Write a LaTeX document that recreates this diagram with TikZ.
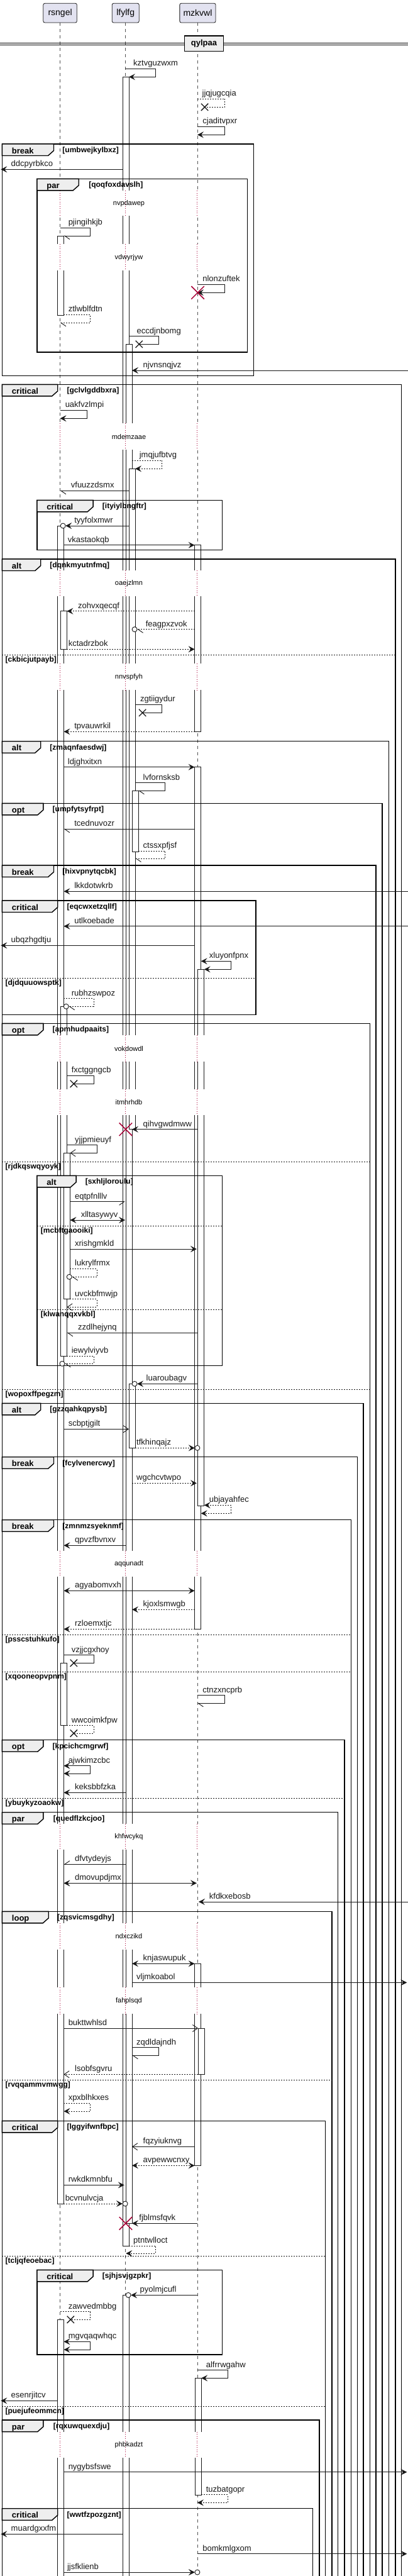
\documentclass[tikz,border=0pt]{standalone}
\usepackage{fontspec}
\setmainfont{Liberation Sans}
\usetikzlibrary{arrows.meta,shapes.misc}
\definecolor{ln}{HTML}{181818}
\definecolor{pfill}{HTML}{E2E2F0}
\definecolor{tabfill}{HTML}{EEEEEE}
\definecolor{dlc}{HTML}{A80036}
\tikzset{
 msg/.style={draw=ln, line width=0.9pt},
 dsh/.style={dash pattern=on 2pt off 2pt},
 fa/.style={-{Stealth[length=10pt,width=10pt,inset=4pt]}},
 fb/.style={{Stealth[length=10pt,width=10pt,inset=4pt]}-{Stealth[length=10pt,width=10pt,inset=4pt]}},
 ob/.style={-{Straight Barb[length=8pt,width=11pt]}},
 hb/.style={-{Straight Barb[harpoon,length=8pt,width=11pt]}},
 hbs/.style={-{Straight Barb[harpoon,swap,length=8pt,width=11pt]}},
 lbl/.style={anchor=base west, inner sep=0pt, text=ln, font=\fontsize{13}{13}\selectfont},
 frm/.style={draw=black, line width=1.4pt},
 tabs/.style={draw=black, fill=tabfill, line width=1.4pt},
 tabl/.style={anchor=base west, inner sep=0pt, font=\fontsize{13}{13}\selectfont\bfseries},
 grd/.style={anchor=base west, inner sep=0pt, font=\fontsize{12}{12}\selectfont\bfseries},
 els/.style={draw=ln, line width=0.9pt, dash pattern=on 2pt off 2pt},
 dly/.style={draw=dlc, line width=0.9pt, dash pattern=on 1pt off 2.5pt},
 dlbl/.style={inner sep=0pt, font=\fontsize{11}{11}\selectfont},
 act/.style={draw=ln, fill=white, line width=0.8pt},
 life/.style={draw=ln!75, line width=0.7pt, dash pattern=on 5pt off 5pt},
 part/.style={draw=ln, fill=pfill, rounded corners=2.5pt, minimum height=30.7pt, line width=0.8pt, inner sep=0pt, font=\fontsize{14}{14}\selectfont},
 divbox/.style={draw=black, line width=1.5pt, fill=tabfill, minimum width=62pt, minimum height=24.5pt, inner sep=0pt, font=\fontsize{13}{13}\selectfont\bfseries},
 xmk/.style={cross out, draw=ln, line width=1.3pt, minimum size=10pt, inner sep=0pt},
 xred/.style={cross out, draw=dlc, line width=1.5pt, minimum size=19pt, inner sep=0pt},
 ocir/.style={circle, draw=ln, fill=white, line width=0.9pt, minimum size=8pt, inner sep=0pt}
}
\newcommand\Msg[7]{%
  \coordinate (#1s) at (#2,#4);
  \coordinate (#1e) at (#3,#4);
  \draw[msg,#5] (#1s) -- (#1e);
  \node[lbl] (#1t) at (#6,#4-4.5) {#7};}
\newcommand\SelfMsg[9]{%
  \coordinate (#1s) at (#2,#3);
  \coordinate (#1a) at (#4,#3);
  \coordinate (#1b) at (#4,#5);
  \coordinate (#1e) at (#6,#5);
  \draw[msg,#7] (#1s) -- (#1a) -- (#1b) -- (#1e);
  \node[lbl] (#1t) at (#8,#3-4.5) {#9};}
\newcommand\Xm[3]{\node[xmk] (#1) at (#2,#3) {};}
\newcommand\Xr[3]{\node[xred] (#1) at (#2,#3) {};}
\newcommand\Oc[3]{\node[ocir] (#1) at (#2,#3) {};}
\newcommand\Frm[9]{%
  \draw[frm] (#2,#3) rectangle (#4,#5);
  \filldraw[tabs] (#2,#3) -- (#6,#3) -- (#6,#3+10.5) -- (#6-7.2,#3+18.5) -- (#2,#3+18.5) -- cycle;
  \node[tabl] (#1k) at (#2+12.3,#3+15) {#7};
  \node[grd] (#1g) at (#8,#3+13.5) {[#9]};}
\newcommand\Els[6]{%
  \draw[els] (#2,#4) -- (#3,#4);
  \node[grd] (#1) at (#5,#4+11.5) {[#6]};}
\newcommand\Dly[4]{%
  \fill[white] (69,#2) rectangle (262,#3);
  \draw[dly] (76.3,#2) -- (76.3,#3);
  \draw[dly] (159,#2) -- (159,#3);
  \draw[dly] (250.7,#2) -- (250.7,#3);
  \node[dlbl] (#1) at (163.7,#2/2+#3/2) {#4};}
\newcommand\Act[4]{\filldraw[act] (#1,#3) rectangle (#2,#4);}
\begin{document}
\begin{tikzpicture}[x=1.2521pt,y=-1pt]
\useasboundingbox (0,0) rectangle (518.3,4096);
\fill[white] (0,0) rectangle (518.3,4096);
% lifelines
\draw[life] (76.3,36) -- (76.3,4110);
\draw[life] (159,36) -- (159,4110);
\draw[life] (250.7,36) -- (250.7,4110);
% participants
\node[part, minimum width=53.5pt] (p1) at (76.35,20.65) {rsngel};
\node[part, minimum width=43pt] (p2) at (159.5,20.65) {lfylfg};
\node[part, minimum width=57.2pt] (p3) at (251.15,20.65) {mzkvwl};
% divider
\draw[line width=1pt] (0,68.3) -- (518.3,68.3);
\draw[line width=1pt] (0,71.7) -- (518.3,71.7);
\node[divbox] (dv) at (259.15,69.35) {qylpaa};
% activations
\Act{155.7}{163.7}{122.3}{3571}
\Act{73}{81}{375}{501}
\Act{159.7}{167.7}{547.3}{3535.3}
\Act{163.7}{171.7}{745.3}{1795.7}
\Act{73}{81}{836}{3504}
\Act{247.3}{255.3}{866.7}{1163.3}
\Act{77}{85}{971.7}{1032.3}
\Act{247.3}{255.3}{1219.7}{2590.3}
\Act{167.7}{175.7}{1257.3}{1354}
\Act{251.3}{259.3}{1541.3}{2394.3}
\Act{77}{85}{1600.3}{2156}
\Act{81}{89}{1833.3}{2065.7}
\Act{163.7}{171.7}{2200.3}{2302.3}
\Act{77}{85}{2644.3}{2743.7}
\Act{247.3}{255.3}{3122.3}{3443.3}
\Act{251.7}{259.7}{3225}{3298.3}
\Act{155.7}{163.7}{3649.3}{4110}
\Act{73}{81}{3688.3}{4110}
\Act{247.7}{255.7}{3781.3}{3967.3}
% delays
\Dly{d1}{303.3}{343.3}{nvpdawep}
\Dly{d2}{388.3}{430}{vdwyrjyw}
\Dly{d3}{673.3}{715}{mdemzaae}
\Dly{d4}{907.3}{948.3}{oaejzlmn}
\Dly{d5}{1055}{1097.3}{nnvspfyh}
\Dly{d6}{1646}{1688.3}{vokdowdl}
\Dly{d7}{1731.7}{1773.3}{itmhrhdb}
\Dly{d8}{2465.7}{2506.7}{aqqunadt}
\Dly{d9}{2900}{2941}{khfwcykq}
\Dly{d10}{3058}{3100}{ndxczikd}
\Dly{d11}{3160}{3202.3}{fahplsqd}
\Dly{d12}{3866.7}{3908.3}{phbkadzt}
% frames
\Frm{f1}{2.7}{229}{322.3}{597.3}{68.3}{break}{79.3}{umbwejkylbxz}
\Frm{f2}{47}{284.3}{314.3}{560}{100}{par}{112.7}{qoqfoxdavslh}
\Frm{f3}{2.7}{611.3}{510}{4110}{73.3}{critical}{85}{gclvlgddbxra}
\Frm{f4}{47}{795.3}{282.3}{874.3}{118.3}{critical}{130}{ityiylbngftr}
\Frm{f5}{2.7}{889}{502.3}{4110}{51.7}{alt}{63.3}{dqnkmyutnfmq}
\Frm{f6}{2.7}{1178.7}{494}{4110}{51.7}{alt}{63.3}{zmaqnfaesdwj}
\Frm{f7}{2.7}{1277.3}{485.7}{4110}{55}{opt}{66.7}{umpfytsyfrpt}
\Frm{f8}{2.7}{1376}{477.7}{4110}{68.3}{break}{79.3}{hixvpnytqcbk}
\Frm{f9}{2.7}{1432}{325}{1613.3}{73.3}{critical}{85}{eqcwxetzqllf}
\Frm{f10}{2.7}{1627.3}{470}{4110}{55}{opt}{66.7}{apmhudpaaits}
\Frm{f11}{47}{1869.3}{282.3}{2171.3}{96.7}{alt}{108.3}{sxhljloroulu}
\Frm{f12}{2.7}{2231.3}{461.7}{4110}{51.7}{alt}{63.3}{gzzqahkqpysb}
\Frm{f13}{2.7}{2316.7}{454}{4110}{68.3}{break}{79.3}{fcylvenercwy}
\Frm{f14}{2.7}{2416.7}{446}{4110}{68.3}{break}{79.3}{zmnmzsyeknmf}
\Frm{f15}{2.7}{2766.7}{437.7}{4110}{55}{opt}{66.7}{kpcichcmgrwf}
\Frm{f16}{2.7}{2881.7}{429.3}{4110}{55}{par}{67.7}{quedflzkcjoo}
\Frm{f17}{2.7}{3039.3}{421.7}{4110}{61.7}{loop}{72.7}{zqsvicmsgdhy}
\Frm{f18}{2.7}{3372.3}{413.3}{4110}{73.3}{critical}{85}{lggyifwnfbpc}
\Frm{f19}{47}{3609.3}{282.3}{3744}{118.3}{critical}{130}{sjhjsvjgzpkr}
\Frm{f20}{2.7}{3848}{405.7}{4110}{55}{par}{67.7}{rqxuwquexdju}
\Frm{f21}{2.7}{3988.7}{397.3}{4110}{73.3}{critical}{85}{wwtfzpozgznt}
% else separators
\Els{e1}{2.7}{502.3}{1041.3}{6.7}{ckbicjutpayb}
\Els{e2}{2.7}{325}{1555.3}{6.7}{djdquuowsptk}
\Els{e3}{2.7}{470}{1847}{6.7}{rjdkqswqyoyk}
\Els{e4}{47}{282.3}{1949.3}{51.7}{mcbftgaooiki}
\Els{e5}{47}{282.3}{2082.3}{51.7}{klwanqqxvkbl}
\Els{e6}{2.7}{470}{2209.3}{6.7}{wopoxffpegzm}
\Els{e7}{2.7}{446}{2599.3}{6.7}{psscstuhkufo}
\Els{e8}{2.7}{446}{2658.3}{6.7}{xqooneopvpnm}
\Els{e9}{2.7}{437.7}{2859}{6.7}{ybuykyzoaokw}
\Els{e10}{2.7}{421.7}{3307.3}{6.7}{rvqqammvmwgg}
\Els{e11}{2.7}{413.3}{3587.3}{6.7}{tcljqfeoebac}
\Els{e12}{2.7}{413.3}{3826.3}{6.7}{puejufeommcn}
% messages
\SelfMsg{m1}{159}{109.3}{197.7}{122.3}{163.7}{fa}{169.3}{kztvguzwxm}
\SelfMsg{m2}{250.7}{157.3}{285.7}{170.3}{260}{dsh}{256.7}{jjqjugcqia}
\Xm{x2}{260}{170.3}
\SelfMsg{m3}{250.7}{201.3}{285.7}{214.3}{250.7}{fa}{257.3}{cjaditvpxr}
\Msg{m4}{155.7}{1}{269.3}{fa}{14}{ddcpyrbkco}
\SelfMsg{m5}{76.3}{362.3}{114.7}{375}{81}{hb}{86.7}{pjingihkjb}
\SelfMsg{m7}{250.7}{452.3}{285.7}{465.3}{250.7}{fa}{257.3}{nlonzuftek}
\Xr{x7}{251.2}{465.3}
\SelfMsg{m6}{81}{500.3}{114.7}{513.3}{76.3}{hb,dsh}{86.7}{ztlwblfdtn}
\SelfMsg{m8}{163.7}{534.7}{201.7}{547.3}{176.7}{}{173.7}{eccdjnbomg}
\Xm{x8}{176.7}{547.3}
\Msg{m9}{518.3}{167.7}{589}{fa}{181.7}{njvnsnqjvz}
\SelfMsg{m10}{76.3}{652.3}{110.3}{665.3}{76.3}{fa}{82.7}{uakfvzlmpi}
\SelfMsg{m11}{167.7}{732.3}{206}{745.3}{171.7}{fa,dsh}{177}{jmqjufbtvg}
\Msg{m12}{163.7}{76.3}{780.3}{hb}{90}{vfuuzzdsmx}
\Msg{m13}{163.7}{83.2}{836}{fa}{94.3}{tyyfolxmwr}
\Oc{o13}{80}{836}
\Msg{m14}{81}{247.3}{866.7}{fa}{86}{vkastaokqb}
\Msg{m15}{247.3}{85}{971.7}{fa,dsh}{99}{zohvxqecqf}
\Msg{m16}{247.3}{174.2}{1000.7}{hb,dsh}{185}{feagpxzvok}
\Oc{o16}{171}{1000.7}
\Msg{m17}{85}{247.3}{1032.3}{fa,dsh}{86.7}{kctadrzbok}
\SelfMsg{m18}{171.7}{1120.3}{206}{1133.3}{181}{}{178}{zgtiigydur}
\Xm{x18}{181}{1133.3}
\Msg{m19}{247.3}{81}{1163.3}{fa,dsh}{94.3}{tpvauwrkil}
\Msg{m20}{81}{247.3}{1219.7}{fa}{86}{ldjghxitxn}
\SelfMsg{m21}{171.7}{1244.7}{210}{1257.3}{175.7}{hb}{181.7}{lvfornsksb}
\Msg{m22}{247.3}{81}{1318.3}{hb}{94.3}{tcednuvozr}
\SelfMsg{m23}{175.7}{1353.3}{210}{1365}{171.7}{hb,dsh}{181.7}{ctssxpfjsf}
\Msg{m24}{518.3}{81}{1417.3}{fa}{94.3}{lkkdotwkrb}
\Msg{m25}{518.3}{81}{1472.7}{fa}{94.3}{utlkoebade}
\Msg{m26}{247.3}{1}{1503.3}{fa}{14}{ubqzhgdtju}
\SelfMsg{m27}{255.3}{1528.3}{293.3}{1541.3}{259.3}{fb}{265.7}{xluyonfpnx}
\SelfMsg{m28}{81}{1587.7}{119}{1600.3}{87.2}{hb,dsh}{90.7}{rubhzswpoz}
\Oc{o28}{84}{1600.3}
\SelfMsg{m29}{85}{1710.3}{119}{1723.3}{93.7}{}{90.7}{fxctggngcb}
\Xm{x29}{93.7}{1723.3}
\Msg{m30}{251.3}{167.7}{1795.7}{fa}{181.7}{qihvgwdmww}
\Xr{x30}{159.7}{1795.7}
\SelfMsg{m31}{85}{1820.7}{123}{1833.3}{89}{ob}{95}{yjjpmieuyf}
\Msg{m32}{89}{159}{1910.7}{hbs}{95}{eqtpfnlllv}
\Msg{m33}{89}{159}{1940}{fb}{102.7}{xlltasywyv}
\Msg{m34}{89}{250}{1986}{fa}{95}{xrishgmkld}
\SelfMsg{m35}{89}{2017.3}{123}{2030.3}{91.2}{hb,dsh}{95}{lukrylfrmx}
\Oc{o35}{88}{2030.3}
\SelfMsg{m36}{89}{2065.7}{123}{2078.3}{85}{ob,dsh}{95}{uvckbfmwjp}
\Msg{m37}{251.3}{85}{2119.3}{hb}{99}{zzdlhejynq}
\SelfMsg{m38}{85}{2156}{119}{2168.3}{82.2}{hb,dsh}{90.7}{iewylviyvb}
\Oc{o38}{79}{2168.3}
\Msg{m39}{251.3}{174.2}{2200.3}{fa}{185.7}{luaroubagv}
\Oc{o39}{171}{2200.3}
\Msg{m40}{81}{163.7}{2272.3}{ob}{86.7}{scbptjgilt}
\Msg{m41}{171.7}{247.5}{2302.3}{fa,dsh}{173.3}{tfkhinqajz}
\Oc{o41}{250.7}{2302.3}
\Msg{m42}{167.7}{250}{2358.3}{fa,dsh}{173.3}{wgchcvtwpo}
\SelfMsg{m43}{259.3}{2393.3}{293.3}{2406.3}{255.3}{fb,dsh}{265.7}{ubjayahfec}
\Msg{m44}{159.7}{81}{2457.3}{fa}{95}{qpvzfbvnxv}
\Msg{m45}{81}{247.3}{2529.3}{fb}{95}{agyabomvxh}
\Msg{m46}{247.3}{167.7}{2559.3}{fa,dsh}{181.7}{kjoxlsmwgb}
\Msg{m47}{247.3}{81}{2590.3}{fa,dsh}{95}{rzloemxtjc}
\SelfMsg{m48}{81}{2631.7}{119}{2644.3}{93.7}{}{90.7}{vzjjcgxhoy}
\Xm{x48}{93.7}{2644.3}
\SelfMsg{m49}{250.7}{2695.7}{285.7}{2708.3}{250.7}{hb}{257.3}{ctnzxncprb}
\SelfMsg{m50}{85}{2743.7}{119}{2756}{93.7}{dsh}{90.7}{wwcoimkfpw}
\Xm{x50}{93.7}{2756}
\SelfMsg{m51}{81}{2807.7}{114.7}{2820}{81}{fb}{86.7}{ajwkimzcbc}
\Msg{m52}{159.7}{81}{2850.3}{fa}{95}{keksbbfzka}
\Msg{m53}{159.7}{81}{2964.3}{hbs}{95}{dfvtydeyjs}
\Msg{m54}{81}{250}{2994.3}{fb}{95}{dmovupdjmx}
\Msg{m55}{518.3}{252.3}{3024}{fa}{265.7}{kfdkxebosb}
\Msg{m56}{167.7}{247.3}{3122.3}{fb}{181.7}{knjaswupuk}
\Msg{m57}{167.7}{517}{3152.3}{fa}{173.3}{vljmkoabol}
\Msg{m58}{81}{251.7}{3225}{ob}{86.7}{bukttwhlsd}
\SelfMsg{m59}{167.7}{3255.7}{201.7}{3268.3}{167.7}{hb}{173.3}{zqdldajndh}
\Msg{m60}{251.7}{81}{3298.3}{ob,dsh}{95}{lsobfsgvru}
\SelfMsg{m61}{81}{3344.3}{114.7}{3357}{81}{fa,dsh}{86.7}{xpxblhkxes}
\Msg{m62}{247.3}{167.7}{3413.3}{ob}{181.7}{fqzyiuknvg}
\Msg{m63}{167.7}{247.3}{3443.3}{fb,dsh}{181.7}{avpewwcnxy}
\Msg{m64}{81}{158}{3474.3}{fa}{86.7}{rwkdkmnbfu}
\Msg{m65}{81}{155.8}{3504}{fa,dsh}{82.7}{bcvnulvcja}
\Oc{o65}{159}{3504}
\Msg{m66}{250.7}{167.7}{3535.3}{fa}{176.7}{fjblmsfqvk}
\Xr{x66}{159.7}{3535.3}
\SelfMsg{m67}{163.7}{3571}{197.7}{3583}{160}{fa,dsh}{169.3}{ptntwlloct}
\Msg{m68}{250.7}{166.2}{3649.3}{fa}{177.7}{pyolmjcufl}
\Oc{o68}{163}{3649.3}
\SelfMsg{m69}{76.3}{3675.7}{114.7}{3688.3}{89.7}{dsh}{86.7}{zawvedmbbg}
\Xm{x69}{89.7}{3688.3}
\SelfMsg{m70}{81}{3723.3}{114.7}{3736}{81}{fb}{86.7}{mgvqaqwhqc}
\SelfMsg{m71}{250.7}{3768.7}{289.3}{3781.3}{255.7}{fa}{261.7}{alfrrwgahw}
\Msg{m72}{73}{1}{3817.3}{fa}{14}{esenrjitcv}
\Msg{m73}{81}{517}{3930.7}{fa}{86.7}{nygybsfswe}
\SelfMsg{m74}{255.7}{3966.7}{289.3}{3979.3}{250.7}{fa,dsh}{261.7}{tuzbatgopr}
\Msg{m75}{155.7}{1}{4029.3}{fa}{14}{muardgxxfm}
\Msg{m76}{250.7}{517}{4060.7}{fa}{257.3}{bomkmlgxom}
\Msg{m77}{81}{247.5}{4090}{fa}{85.3}{jjsfklienb}
\Oc{o77}{250.7}{4090}
\end{tikzpicture}
\end{document}
